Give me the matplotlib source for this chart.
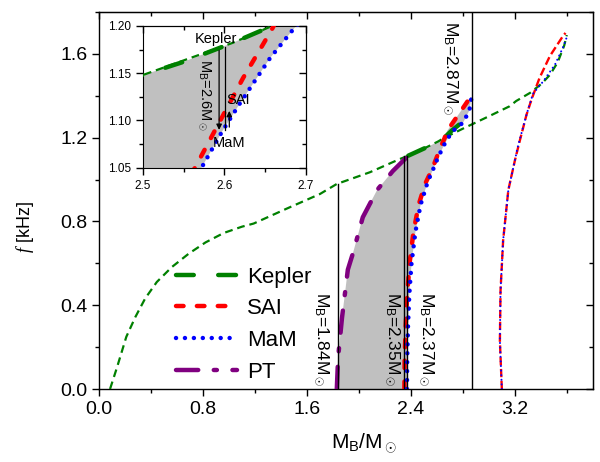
import matplotlib
matplotlib.use('Agg')
import matplotlib.pyplot as plt
import numpy as np
from matplotlib.ticker import MultipleLocator, FormatStrFormatter

plt.rcParams['font.family'] = ['Liberation Sans', 'DejaVu Sans']
plt.rcParams['mathtext.fontset'] = 'custom'
plt.rcParams['mathtext.rm'] = 'Liberation Sans'
plt.rcParams['mathtext.it'] = 'Liberation Serif:italic'
plt.rcParams['mathtext.bf'] = 'Liberation Sans:bold'

# datos: masa barionica M_B/M_sol y frecuencia f [kHz]
kep_x = [0.085, 0.14, 0.21, 0.28, 0.355, 0.445, 0.56, 0.69, 0.82, 0.96, 1.1, 1.19, 1.44,
         1.70, 1.83, 2.085, 2.315, 2.38, 2.5, 2.61, 2.656, 2.80, 3.01, 3.16, 3.21, 3.32,
         3.41, 3.47, 3.53, 3.58, 3.60]
kep_f = [0.0, 0.106, 0.249, 0.344, 0.432, 0.511, 0.582, 0.646, 0.70, 0.745, 0.775, 0.79, 0.86,
         0.931, 0.979, 1.035, 1.098, 1.114, 1.148, 1.182, 1.199, 1.243, 1.305, 1.35, 1.375, 1.415,
         1.46, 1.50, 1.56, 1.64, 1.69]

# tramo grueso de Kepler (borde de la zona sombreada)
kep2_x = [2.38, 2.50, 2.55, 2.61, 2.656, 2.713, 2.777]
kep2_f = [1.114, 1.148, 1.162, 1.182, 1.199, 1.233, 1.265]

sai_x = [2.35, 2.352, 2.36, 2.372, 2.39, 2.42, 2.46, 2.51, 2.564, 2.595, 2.623, 2.658,
         2.68, 2.777, 2.86]
sai_f = [0.0, 0.15, 0.3, 0.45, 0.6, 0.75, 0.88, 0.98, 1.05, 1.10, 1.145, 1.196,
         1.233, 1.32, 1.395]

mam_x = [2.37, 2.372, 2.378, 2.388, 2.405, 2.435, 2.475, 2.53, 2.572, 2.597, 2.619, 2.656,
         2.685, 2.72, 2.803, 2.85, 2.867]
mam_f = [0.0, 0.15, 0.3, 0.45, 0.6, 0.75, 0.88, 0.99, 1.05, 1.088, 1.118, 1.166,
         1.197, 1.23, 1.273, 1.33, 1.392]

pt_x = [1.83, 1.84, 1.87, 1.915, 1.955, 2.03, 2.14, 2.26, 2.38]
pt_f = [0.0, 0.15, 0.34, 0.57, 0.65, 0.82, 0.95, 1.04, 1.114]

# rama derecha (lineas finas)
sai_r_x = [3.10, 3.085, 3.09, 3.11, 3.15, 3.20, 3.24, 3.29, 3.33, 3.39, 3.47, 3.57, 3.59]
sai_r_f = [0.0, 0.23, 0.47, 0.71, 0.95, 1.09, 1.19, 1.31, 1.385, 1.485, 1.59, 1.685, 1.70]
mam_r_x = [3.10, 3.085, 3.09, 3.11, 3.15, 3.20, 3.22, 3.29, 3.34, 3.42, 3.51, 3.57, 3.60]
mam_r_f = [0.0, 0.23, 0.47, 0.71, 0.95, 1.09, 1.15, 1.31, 1.41, 1.47, 1.55, 1.63, 1.68]

mb_vals = [1.84, 2.35, 2.37, 2.87]
mb_tops = [0.98, 1.114, 1.114, 1.8]
mb_text_x = [1.708, 2.254, 2.515, 2.70]
mb_text_y = [0.236, 0.236, 0.236, 1.53]

green, red, blue, purple = '#008000', '#ff0000', '#0000ff', '#800080'

fig = plt.figure(figsize=(6, 4.62), dpi=100)
ax = fig.add_axes([0.165, 0.158, 0.823, 0.816])

# zona sombreada: PT -> Kepler -> SAI -> MaM (vuelta)
sai_x_a, sai_f_a = np.array(sai_x), np.array(sai_f)
top = sai_f_a > 1.199
fill_x = np.concatenate([pt_x, kep2_x[1:5], sai_x_a[top], mam_x[::-1]])
fill_f = np.concatenate([pt_f, kep2_f[1:5], sai_f_a[top], mam_f[::-1]])


def draw_curves(a):
    a.fill(fill_x, fill_f, color='#c0c0c0', lw=0, zorder=1)
    a.plot(kep_x, kep_f, color=green, lw=1.6, dashes=(3.5, 2.2), zorder=3)
    a.plot(kep2_x, kep2_f, color=green, lw=3.2, dashes=(4, 5.5), dash_capstyle='round',
           zorder=4, label='Kepler')
    a.plot(sai_x, sai_f, color=red, lw=3.2, dashes=(1.7, 3.0), dash_capstyle='round',
           zorder=4, label='SAI')
    a.plot(mam_x, mam_f, color=blue, lw=3.2, dashes=(0.01, 2.0), dash_capstyle='round',
           zorder=5, label='MaM')
    a.plot(pt_x, pt_f, color=purple, lw=3.2, dashes=(5, 3.5, 0.7, 3.5), dash_capstyle='round',
           zorder=4, label='PT')
    a.plot(sai_r_x, sai_r_f, color=red, lw=1.7, dashes=(3.5, 1.5), zorder=3)
    a.plot(mam_r_x, mam_r_f, color=blue, lw=1.5, dashes=(0.01, 2.2), dash_capstyle='round', zorder=4)


def mirror_ticks(a, xmaj, xmin, ymaj, ymin):
    a.tick_params(which='both', direction='out', top=False, right=False)
    a.tick_params(which='major', length=5, width=1)
    a.tick_params(which='minor', length=3, width=1)
    t = a.secondary_xaxis('top')
    t.xaxis.set_major_locator(MultipleLocator(xmaj))
    t.xaxis.set_minor_locator(MultipleLocator(xmin))
    t.tick_params(which='both', direction='in', labeltop=False, width=1)
    t.tick_params(which='major', length=5)
    t.tick_params(which='minor', length=3)
    r = a.secondary_yaxis('right')
    r.yaxis.set_major_locator(MultipleLocator(ymaj))
    r.yaxis.set_minor_locator(MultipleLocator(ymin))
    r.tick_params(which='both', direction='in', labelright=False, width=1)
    r.tick_params(which='major', length=5)
    r.tick_params(which='minor', length=3)


draw_curves(ax)
for m, t in zip(mb_vals, mb_tops):
    ax.plot([m, m], [0, t], color='k', lw=1.0, zorder=6)
for m, tx, ty in zip(mb_vals, mb_text_x, mb_text_y):
    ax.text(tx, ty, r'M$_{\rm B}$=%.2fM$_\odot$' % m, rotation=-90, ha='center', va='center',
            fontsize=12.5)

ax.set_xlim(0, 3.8)
ax.set_ylim(0, 1.8)
ax.xaxis.set_major_locator(MultipleLocator(0.8))
ax.xaxis.set_minor_locator(MultipleLocator(0.4))
ax.yaxis.set_major_locator(MultipleLocator(0.4))
ax.yaxis.set_minor_locator(MultipleLocator(0.2))
ax.xaxis.set_major_formatter(FormatStrFormatter('%.1f'))
ax.yaxis.set_major_formatter(FormatStrFormatter('%.1f'))
ax.tick_params(labelsize=14)
mirror_ticks(ax, 0.8, 0.4, 0.4, 0.2)
for s in ax.spines.values():
    s.set_linewidth(1.0)

ax.set_xlabel(r'M$_{\rm B}$/M$_\odot$', fontsize=15)
ax.xaxis.set_label_coords(0.536, -0.115)
ax.set_ylabel(r'$f$ [kHz]', fontsize=13)
ax.yaxis.set_label_coords(-0.127, 0.43)

ax.legend(loc='upper left', bbox_to_anchor=(0.116, 0.378), frameon=False, fontsize=16,
          handlelength=2.75, handletextpad=0.45, labelspacing=0.48)

# recuadro ampliado
ax_in = fig.add_axes([0.238, 0.637, 0.272, 0.307])
draw_curves(ax_in)
ax_in.set_xlim(2.5, 2.7)
ax_in.set_ylim(1.05, 1.20)
ax_in.xaxis.set_major_locator(MultipleLocator(0.1))
ax_in.xaxis.set_minor_locator(MultipleLocator(0.05))
ax_in.yaxis.set_major_locator(MultipleLocator(0.05))
ax_in.yaxis.set_minor_locator(MultipleLocator(0.025))
ax_in.xaxis.set_major_formatter(FormatStrFormatter('%.1f'))
ax_in.yaxis.set_major_formatter(FormatStrFormatter('%.2f'))
ax_in.tick_params(labelsize=8.5)
mirror_ticks(ax_in, 0.1, 0.05, 0.05, 0.025)

arrow_x = [2.5935, 2.601, 2.606]
arrow_y0 = [1.177, 1.178, 1.09]
arrow_y1 = [1.087, 1.09, 1.113]
ax_in.annotate('', xy=(arrow_x[0], arrow_y1[0]), xytext=(arrow_x[0], arrow_y0[0]),
               arrowprops=dict(arrowstyle='-|>', color='k', lw=0.9, mutation_scale=8), zorder=7)
ax_in.plot([arrow_x[1], arrow_x[1]], [arrow_y0[1], arrow_y1[1]], color='k', lw=0.9, zorder=7)
ax_in.annotate('', xy=(arrow_x[2], arrow_y1[2]), xytext=(arrow_x[2], arrow_y0[2]),
               arrowprops=dict(arrowstyle='-|>', color='k', lw=0.9, mutation_scale=8), zorder=7)

ax_in.text(2.59, 1.186, 'Kepler', ha='center', va='center', fontsize=10.5, zorder=8)
ax_in.text(2.617, 1.122, 'SAI', ha='center', va='center', fontsize=10.5, zorder=8)
ax_in.text(2.606, 1.076, 'MaM', ha='center', va='center', fontsize=10.5, zorder=8)
ax_in.text(2.575, 1.127, r'M$_{\rm B}$=2.6M$_\odot$', rotation=-90, ha='center', va='center',
           fontsize=10.5, zorder=8)

fig.savefig('out.png', dpi=100)
